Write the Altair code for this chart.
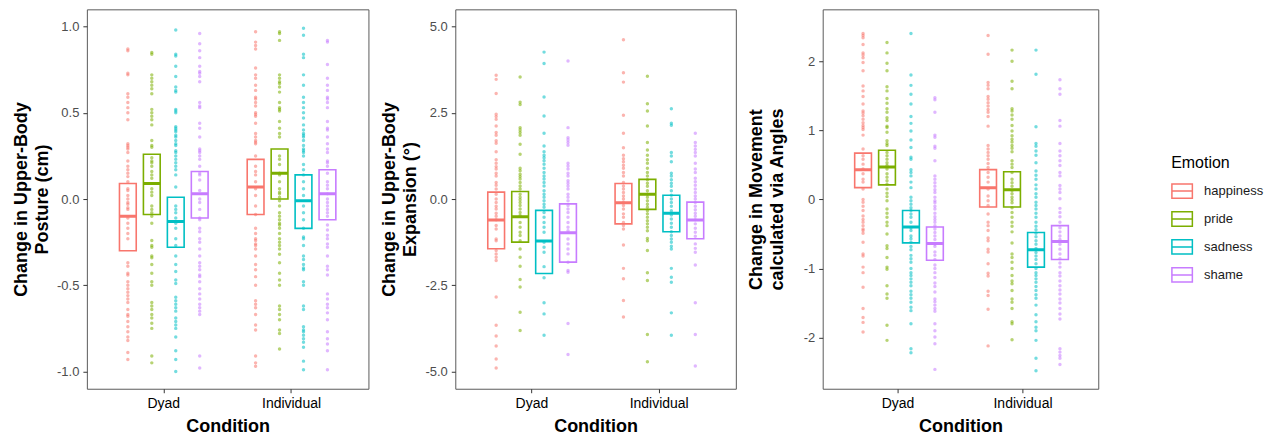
import altair as alt
import pandas as pd

emotions = ["happiness", "pride", "sadness", "shame"]
conditions = ["Dyad", "Individual"]
colors = ["#F8766D", "#7CAE00", "#00BFC4", "#C77CFF"]

# ---------------- Panel 1: Change in Upper-Body Posture (cm) ----------------
p1_dyad_happiness = [0.87, 0.86, 0.73, 0.72, 0.61, 0.59, 0.56, 0.53, 0.50, 0.46, 0.32, 0.31, 0.30, 0.29, 0.27,
                     0.22, 0.19, 0.17, 0.15, 0.13, 0.10, 0.06, 0.05, 0.02, 0.00, -0.02, -0.03, -0.05, -0.06, -0.11,
                     -0.14, -0.17, -0.20, -0.23, -0.37, -0.39, -0.43, -0.44, -0.48, -0.50, -0.52, -0.54, -0.56, -0.58,
                     -0.60, -0.64, -0.67, -0.68, -0.71, -0.74, -0.77, -0.80, -0.82, -0.89, -0.93]
p1_dyad_pride = [0.85, 0.84, 0.72, 0.70, 0.68, 0.66, 0.64, 0.61, 0.52, 0.50, 0.48, 0.46, 0.43, 0.34, 0.31, 0.30,
                 0.24, 0.22, 0.21, 0.19, 0.16, 0.14, 0.12, 0.06, 0.04, 0.02, -0.04, -0.06, -0.08, -0.10, -0.14,
                 -0.24, -0.27, -0.28, -0.33, -0.34, -0.38, -0.43, -0.48, -0.50, -0.60, -0.62, -0.64, -0.67, -0.69,
                 -0.72, -0.75, -0.91, -0.95]
p1_dyad_sadness = [0.98, 0.84, 0.83, 0.77, 0.71, 0.65, 0.63, 0.62, 0.52, 0.51, 0.50, 0.42, 0.41, 0.40, 0.39, 0.37,
                   0.36, 0.34, 0.32, 0.31, 0.28, 0.27, 0.25, 0.23, 0.21, 0.19, 0.17, 0.14, 0.07, -0.04, -0.06, -0.08,
                   -0.11, -0.14, -0.17, -0.23, -0.27, -0.33, -0.38, -0.42, -0.47, -0.49, -0.57, -0.59, -0.61, -0.63,
                   -0.65, -0.69, -0.71, -0.73, -0.75, -0.80, -0.88, -0.93, -1.00]
p1_dyad_shame = [0.96, 0.90, 0.86, 0.82, 0.77, 0.74, 0.73, 0.71, 0.68, 0.56, 0.54, 0.53, 0.44, 0.41, 0.36, 0.29,
                 0.28, 0.27, 0.25, 0.23, 0.19, 0.15, 0.14, 0.11, 0.05, 0.00, -0.02, -0.06, -0.11, -0.12, -0.17,
                 -0.19, -0.23, -0.25, -0.29, -0.33, -0.37, -0.39, -0.41, -0.44, -0.45, -0.48, -0.52, -0.55, -0.58,
                 -0.61, -0.63, -0.65, -0.67, -0.91, -0.98]
p1_ind_happiness = [0.97, 0.91, 0.89, 0.87, 0.76, 0.72, 0.70, 0.66, 0.63, 0.59, 0.58, 0.56, 0.54, 0.50, 0.49, 0.48,
                    0.44, 0.38, 0.36, 0.34, 0.33, 0.32, 0.25, 0.19, 0.16, 0.14, 0.10, 0.06, 0.02, -0.04, -0.09,
                    -0.17, -0.20, -0.23, -0.24, -0.26, -0.27, -0.29, -0.33, -0.38, -0.41, -0.45, -0.50, -0.59, -0.61,
                    -0.63, -0.67, -0.73, -0.76, -0.91, -0.95, -0.97]
p1_ind_pride = [0.97, 0.96, 0.92, 0.72, 0.70, 0.68, 0.67, 0.65, 0.62, 0.56, 0.53, 0.52, 0.51, 0.45, 0.41, 0.38, 0.36,
                0.25, 0.23, 0.20, 0.15, 0.14, 0.10, 0.06, 0.04, 0.03, 0.01, -0.01, -0.04, -0.08, -0.10, -0.12, -0.14,
                -0.15, -0.17, -0.20, -0.23, -0.25, -0.27, -0.29, -0.32, -0.37, -0.43, -0.47, -0.50, -0.62, -0.64,
                -0.67, -0.70, -0.76, -0.78, -0.87]
p1_ind_sadness = [0.99, 0.95, 0.84, 0.82, 0.72, 0.66, 0.59, 0.56, 0.53, 0.50, 0.47, 0.43, 0.40, 0.38, 0.37, 0.36,
                  0.34, 0.31, 0.29, 0.28, 0.27, 0.25, 0.20, 0.17, 0.14, 0.10, 0.06, 0.02, -0.04, -0.08, -0.12, -0.17,
                  -0.22, -0.23, -0.27, -0.33, -0.35, -0.38, -0.40, -0.41, -0.48, -0.50, -0.62, -0.64, -0.74, -0.76,
                  -0.77, -0.79, -0.81, -0.83, -0.86, -0.94, -0.99]
p1_ind_shame = [0.92, 0.91, 0.78, 0.70, 0.66, 0.63, 0.59, 0.58, 0.56, 0.53, 0.45, 0.41, 0.40, 0.36, 0.32, 0.29, 0.27,
                0.22, 0.21, 0.19, 0.15, 0.10, 0.08, 0.06, 0.03, 0.00, -0.02, -0.04, -0.06, -0.08, -0.10, -0.15,
                -0.18, -0.21, -0.23, -0.26, -0.28, -0.33, -0.39, -0.41, -0.44, -0.55, -0.58, -0.61, -0.63, -0.66,
                -0.70, -0.77, -0.81, -0.84, -0.88, -0.99]
# boxes, order: Dyad x (happiness, pride, sadness, shame), then Individual x (...)
p1_box_low = [-0.30, -0.09, -0.28, -0.11, -0.09, 0.00, -0.17, -0.12]
p1_box_mid = [-0.10, 0.09, -0.13, 0.03, 0.07, 0.15, -0.01, 0.03]
p1_box_high = [0.09, 0.26, 0.01, 0.16, 0.23, 0.29, 0.14, 0.17]

# ---------------- Panel 2: Change in Upper-Body Expansion (deg) ----------------
p2_dyad_happiness = [3.59, 3.47, 3.06, 2.46, 2.39, 2.31, 2.12, 1.93, 1.85, 1.69, 1.62, 1.37, 1.14, 1.04, 0.94, 0.87,
                     0.75, 0.67, 0.48, 0.40, 0.29, 0.14, 0.00, -0.10, -0.21, -0.29, -0.41, -0.50, -0.60, -0.77, -0.87,
                     -1.16, -1.21, -1.49, -1.59, -1.69, -1.78, -2.84, -3.66, -3.97, -4.26, -4.64, -4.90]
p2_dyad_pride = [3.54, 2.81, 2.74, 2.07, 2.00, 1.93, 1.85, 1.59, 1.30, 0.89, 0.82, 0.72, 0.65, 0.58, 0.48, 0.38, 0.29,
                 0.14, 0.05, -0.02, -0.10, -0.19, -0.29, -0.39, -0.48, -0.68, -0.82, -0.96, -1.06, -1.21, -1.45,
                 -1.69, -1.95, -2.33, -2.55, -3.28, -3.81]
p2_dyad_sadness = [4.26, 3.93, 2.96, 2.41, 1.91, 1.54, 1.37, 1.27, 1.20, 1.11, 1.01, 0.89, 0.77, 0.67, 0.58, 0.48,
                   0.38, 0.24, 0.14, 0.05, -0.05, -0.15, -0.24, -0.39, -0.53, -0.68, -0.82, -0.96, -1.25, -1.40,
                   -1.54, -1.96, -2.28, -3.01, -3.33, -3.95]
p2_dyad_shame = [4.00, 2.07, 1.78, 1.71, 1.64, 1.56, 1.04, 0.96, 0.87, 0.75, 0.67, 0.53, 0.46, 0.38, 0.29, 0.14, 0.05,
                 -0.05, -0.19, -0.29, -0.39, -0.53, -0.68, -0.82, -0.92, -1.16, -1.30, -1.45, -1.59, -1.83, -2.07,
                 -2.12, -3.61, -4.51]
p2_ind_happiness = [4.62, 3.66, 3.39, 2.43, 1.91, 1.49, 1.27, 1.17, 1.08, 0.98, 0.89, 0.77, 0.67, 0.48, 0.38, 0.29,
                    0.19, 0.09, 0.00, -0.10, -0.19, -0.29, -0.43, -0.53, -0.68, -0.77, -0.87, -1.33, -2.01, -2.31,
                    -2.94, -3.42]
p2_ind_pride = [3.56, 2.76, 2.55, 2.12, 1.64, 1.42, 1.27, 1.14, 1.04, 0.89, 0.77, 0.67, 0.56, 0.46, 0.37, 0.24, 0.14,
                0.05, -0.05, -0.15, -0.24, -0.34, -0.43, -0.53, -0.63, -0.72, -0.82, -0.92, -1.14, -1.21, -1.49,
                -2.14, -2.36, -3.93, -4.72]
p2_ind_sadness = [2.62, 2.20, 2.14, 1.35, 1.25, 1.08, 0.75, 0.67, 0.56, 0.46, 0.37, 0.24, 0.11, 0.00, -0.10, -0.21,
                  -0.34, -0.46, -0.58, -0.70, -0.82, -0.95, -1.06, -1.16, -1.25, -1.37, -1.45, -2.01, -2.27, -2.41,
                  -3.30, -3.95]
p2_ind_shame = [1.91, 1.64, 1.54, 1.44, 1.35, 1.25, 1.04, 0.87, 0.77, 0.60, 0.50, 0.40, 0.29, 0.19, 0.09, 0.00,
                -0.10, -0.21, -0.31, -0.41, -0.50, -0.60, -0.72, -0.85, -0.96, -1.08, -1.30, -1.43, -1.54, -1.91,
                -3.01, -3.93, -4.84]
p2_box_low = [-1.44, -1.25, -2.16, -1.83, -0.72, -0.30, -0.95, -1.15]
p2_box_mid = [-0.61, -0.51, -1.22, -0.98, -0.11, 0.14, -0.41, -0.61]
p2_box_high = [0.20, 0.22, -0.33, -0.14, 0.45, 0.57, 0.11, -0.09]

# ---------------- Panel 3: Change in Movement calculated via Angles ----------------
p3_dyad_happiness = [2.40, 2.37, 2.34, 2.24, 2.12, 2.09, 2.05, 1.98, 1.86, 1.64, 1.57, 1.49, 1.38, 1.28, 1.25, 1.21,
                     1.16, 1.11, 1.07, 1.04, 1.01, 0.93, 0.73, 0.63, 0.58, 0.51, 0.44, 0.37, 0.29, 0.25, 0.15, 0.00,
                     -0.04, -0.10, -0.16, -0.24, -0.29, -0.33, -0.38, -0.43, -0.45, -0.49, -0.62, -0.79, -0.82,
                     -0.98, -1.06, -1.27, -1.58, -1.71, -1.78, -1.92]
p3_dyad_pride = [2.27, 2.12, 1.97, 1.86, 1.63, 1.57, 1.46, 1.39, 1.31, 1.26, 1.18, 1.14, 1.06, 1.04, 0.97, 0.85, 0.81,
                 0.78, 0.68, 0.63, 0.58, 0.53, 0.49, 0.44, 0.37, 0.32, 0.27, 0.22, 0.15, 0.09, 0.04, -0.02, -0.14,
                 -0.20, -0.26, -0.33, -0.38, -0.50, -0.67, -0.71, -0.84, -0.98, -1.01, -1.25, -1.37, -1.43, -1.82,
                 -2.04]
p3_dyad_sadness = [2.40, 1.80, 1.65, 1.52, 1.38, 1.20, 1.10, 0.99, 0.86, 0.75, 0.61, 0.58, 0.43, 0.39, 0.34, 0.25,
                   0.17, 0.03, -0.02, -0.07, -0.12, -0.16, -0.21, -0.26, -0.33, -0.41, -0.45, -0.53, -0.57, -0.62,
                   -0.68, -0.73, -0.81, -0.86, -0.91, -1.00, -1.06, -1.10, -1.15, -1.20, -1.25, -1.33, -1.38, -1.43,
                   -1.49, -1.56, -1.61, -1.80, -2.16, -2.22]
p3_dyad_shame = [1.47, 1.44, 1.26, 0.93, 0.90, 0.77, 0.74, 0.56, 0.34, 0.29, 0.24, 0.19, 0.14, 0.10, 0.03, -0.02,
                 -0.05, -0.10, -0.14, -0.20, -0.25, -0.29, -0.33, -0.38, -0.43, -0.48, -0.53, -0.58, -0.65, -0.68,
                 -0.76, -0.81, -0.87, -0.95, -1.00, -1.06, -1.13, -1.21, -1.26, -1.34, -1.44, -1.48, -1.53, -1.58,
                 -1.62, -1.80, -1.90, -1.99, -2.09, -2.46]
p3_ind_happiness = [2.37, 2.10, 1.69, 1.65, 1.60, 1.49, 1.45, 1.40, 1.35, 1.30, 1.26, 1.20, 1.06, 0.78, 0.73, 0.68,
                    0.63, 0.58, 0.52, 0.46, 0.39, 0.32, 0.25, 0.15, 0.05, -0.02, -0.09, -0.21, -0.33, -0.38, -0.45,
                    -0.56, -0.60, -0.72, -0.76, -0.93, -1.07, -1.11, -1.33, -1.39, -1.59, -2.12]
p3_ind_pride = [2.16, 2.00, 1.71, 1.60, 1.31, 1.28, 1.22, 1.16, 1.07, 0.99, 0.92, 0.87, 0.83, 0.78, 0.74, 0.69, 0.56,
                0.51, 0.46, 0.39, 0.29, 0.24, 0.19, 0.13, 0.08, 0.03, -0.01, -0.05, -0.12, -0.19, -0.26, -0.33,
                -0.39, -0.47, -0.63, -0.79, -0.84, -0.91, -1.00, -1.10, -1.18, -1.22, -1.32, -1.44, -1.49, -1.58,
                -1.77, -1.80, -2.03]
p3_ind_sadness = [2.16, 1.81, 1.05, 0.81, 0.77, 0.70, 0.64, 0.53, 0.41, 0.35, 0.29, 0.21, 0.15, 0.08, 0.03, -0.04,
                  -0.09, -0.14, -0.20, -0.26, -0.33, -0.39, -0.44, -0.49, -0.54, -0.60, -0.65, -0.71, -0.77, -0.82,
                  -0.87, -0.93, -1.00, -1.06, -1.10, -1.15, -1.20, -1.26, -1.32, -1.38, -1.43, -1.53, -1.67, -1.77,
                  -1.85, -1.90, -2.04, -2.30, -2.48]
p3_ind_shame = [1.73, 1.60, 1.52, 1.14, 1.06, 0.81, 0.70, 0.63, 0.56, 0.49, 0.39, 0.34, 0.20, 0.15, 0.10, 0.01,
                -0.13, -0.19, -0.25, -0.33, -0.41, -0.47, -0.53, -0.58, -0.65, -0.72, -0.79, -0.86, -0.92, -0.98,
                -1.06, -1.11, -1.18, -1.25, -1.31, -1.37, -1.44, -1.50, -1.58, -1.66, -1.73, -2.16, -2.21, -2.26,
                -2.30, -2.39]
p3_box_low = [0.17, 0.21, -0.63, -0.88, -0.11, -0.11, -0.98, -0.87]
p3_box_mid = [0.43, 0.47, -0.40, -0.64, 0.17, 0.14, -0.73, -0.61]
p3_box_high = [0.67, 0.71, -0.16, -0.40, 0.43, 0.40, -0.48, -0.38]


def points_frame(groups):
    rows = []
    for (cond, emo), vals in groups.items():
        for v in vals:
            rows.append({"Condition": cond, "Emotion": emo, "value": v})
    return pd.DataFrame(rows)


def box_frame(low, mid, high):
    rows = []
    i = 0
    for cond in conditions:
        for emo in emotions:
            rows.append({"Condition": cond, "Emotion": emo, "lo": low[i], "mid": mid[i], "hi": high[i]})
            i += 1
    return pd.DataFrame(rows)


def panel(groups, low, mid, high, ytitle, domain, ticks, fmt, title_pad, width, legend):
    pts = points_frame(groups)
    box = box_frame(low, mid, high)
    xenc = alt.X("Condition:N", sort=conditions,
                 scale=alt.Scale(paddingInner=0.25, paddingOuter=0.227),
                 axis=alt.Axis(title="Condition", labelAngle=0))
    xoff = alt.XOffset("Emotion:N", sort=emotions,
                       scale=alt.Scale(paddingInner=0.3, paddingOuter=0.15))
    yscale = alt.Scale(domain=domain, nice=False, zero=False)
    yaxis = alt.Axis(title=ytitle, values=ticks, titlePadding=title_pad,
                     labelExpr=f"datum.value < 0 ? '-' + format(-datum.value, '{fmt}') : format(datum.value, '{fmt}')")
    cscale = alt.Scale(domain=emotions, range=colors)
    if legend:
        leg = alt.Legend(title="Emotion", orient="none", legendX=349, legendY=146,
                         symbolType="M-1,-0.7H1V0.7H-1Z M-1,0H1", symbolSize=420,
                         symbolStrokeWidth=1.5, titleFontSize=16, titleFontWeight="normal",
                         titleColor="#000000", labelFontSize=13, labelColor="#1a1a1a",
                         labelOffset=11, rowPadding=6, titlePadding=9)
    else:
        leg = None

    p = alt.Chart(pts).mark_circle(size=12, opacity=0.55).encode(
        x=xenc, xOffset=xoff,
        y=alt.Y("value:Q", scale=yscale, axis=yaxis),
        color=alt.Color("Emotion:N", scale=cscale, legend=None),
    )
    b = alt.Chart(box).mark_bar(filled=False, strokeWidth=1.6).encode(
        x=xenc, xOffset=xoff,
        y=alt.Y("lo:Q", scale=yscale, axis=yaxis), y2="hi:Q",
        color=alt.Color("Emotion:N", scale=cscale, legend=leg),
    )
    m = alt.Chart(box).mark_bar(filled=False, strokeWidth=3).encode(
        x=xenc, xOffset=xoff,
        y=alt.Y("mid:Q", scale=yscale, axis=yaxis), y2="mid:Q",
        color=alt.Color("Emotion:N", scale=cscale, legend=None),
    )
    return alt.layer(p, b, m).resolve_legend(color="independent").properties(width=width, height=380)


c1 = panel({("Dyad", "happiness"): p1_dyad_happiness, ("Dyad", "pride"): p1_dyad_pride,
            ("Dyad", "sadness"): p1_dyad_sadness, ("Dyad", "shame"): p1_dyad_shame,
            ("Individual", "happiness"): p1_ind_happiness, ("Individual", "pride"): p1_ind_pride,
            ("Individual", "sadness"): p1_ind_sadness, ("Individual", "shame"): p1_ind_shame},
           p1_box_low, p1_box_mid, p1_box_high,
           ["Change in Upper-Body", "Posture (cm)"], [-1.1, 1.1], [-1.0, -0.5, 0.0, 0.5, 1.0], ".1f", 5, 282, False)
c2 = panel({("Dyad", "happiness"): p2_dyad_happiness, ("Dyad", "pride"): p2_dyad_pride,
            ("Dyad", "sadness"): p2_dyad_sadness, ("Dyad", "shame"): p2_dyad_shame,
            ("Individual", "happiness"): p2_ind_happiness, ("Individual", "pride"): p2_ind_pride,
            ("Individual", "sadness"): p2_ind_sadness, ("Individual", "shame"): p2_ind_shame},
           p2_box_low, p2_box_mid, p2_box_high,
           ["Change in Upper-Body", "Expansion (°)"], [-5.5, 5.5], [-5.0, -2.5, 0.0, 2.5, 5.0], ".1f", 5, 281, False)
c3 = panel({("Dyad", "happiness"): p3_dyad_happiness, ("Dyad", "pride"): p3_dyad_pride,
            ("Dyad", "sadness"): p3_dyad_sadness, ("Dyad", "shame"): p3_dyad_shame,
            ("Individual", "happiness"): p3_ind_happiness, ("Individual", "pride"): p3_ind_pride,
            ("Individual", "sadness"): p3_ind_sadness, ("Individual", "shame"): p3_ind_shame},
           p3_box_low, p3_box_mid, p3_box_high,
           ["Change in Movement", "calculated via Angles"], [-2.74, 2.75], [-2, -1, 0, 1, 2], "d", 17, 276, True)

chart = alt.hconcat(c1, c2, c3, spacing=87, bounds="flush").resolve_scale(color="independent").properties(
    padding={"left": 4, "top": 0, "right": 0, "bottom": 0}
).configure(font="Liberation Sans").configure_view(
    stroke="#5a5a5a", strokeWidth=1
).configure_axis(
    grid=False, domain=False, tickColor="#333333", tickSize=4, labelPadding=4,
    labelFont="Liberation Sans", titleFont="Liberation Sans",
    titleFontSize=18, titleFontWeight="bold", titleColor="#000000",
).configure_axisY(
    labelFontSize=13, labelColor="#4d4d4d", titleLineHeight=21,
).configure_axisX(
    labelFontSize=14, labelColor="#000000", titlePadding=7,
).configure_legend(
    labelFont="Liberation Sans", titleFont="Liberation Sans",
)

chart.save("out.html", embed_options={"renderer": "svg", "actions": False})
